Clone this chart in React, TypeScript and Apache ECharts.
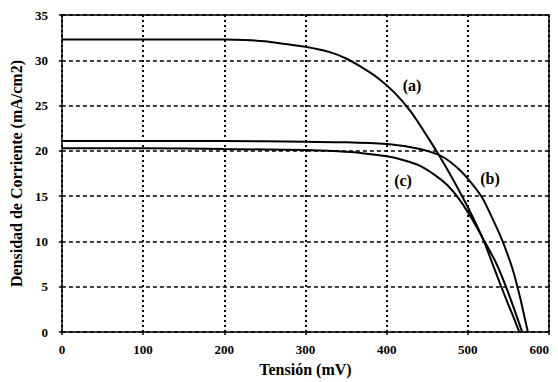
import React, { useEffect, useRef } from "react";
import * as echarts from "echarts";

const xTicks = [0, 100, 200, 300, 400, 500, 600];
const yTicks = [0, 5, 10, 15, 20, 25, 30, 35];

const curveA: [number, number][] = [
  [0, 32.3], [100, 32.3], [200, 32.3], [225, 32.25], [250, 32.1], [275, 31.8],
  [300, 31.5], [330, 30.9], [350, 30.2], [370, 29.2], [390, 28.0], [410, 26.4],
  [430, 24.3], [450, 21.6], [470, 18.7], [490, 15.5], [505, 12.9], [520, 10.0],
  [531, 7.4], [540, 5.3], [550, 3.0], [557, 1.5], [563.5, 0],
];
const curveB: [number, number][] = [
  [0, 21.1], [100, 21.1], [200, 21.1], [300, 21.0], [350, 20.95], [400, 20.75],
  [430, 20.4], [450, 20.0], [470, 19.3], [490, 17.9], [505, 16.4], [518, 14.8],
  [530, 12.6], [542, 10.2], [555, 7.0], [565, 3.6], [574, 0],
];
const curveC: [number, number][] = [
  [0, 20.3], [100, 20.3], [200, 20.2], [300, 20.1], [340, 19.95], [370, 19.75],
  [400, 19.4], [420, 19.0], [440, 18.4], [460, 17.3], [475, 16.2], [490, 14.6],
  [505, 12.5], [520, 10.1], [535, 7.6], [550, 4.3], [567, 0],
];

const curveLabels = [
  { text: "(a)", x: 412, y: 85 },
  { text: "(b)", x: 490, y: 178 },
  { text: "(c)", x: 403, y: 180 },
];

const FONT = "Liberation Serif, Times New Roman, serif";

export default function App() {
  const ref = useRef<HTMLDivElement>(null);
  useEffect(() => {
    if (!ref.current) return;
    const chart = echarts.init(ref.current, undefined, { renderer: "svg" });
    const lineSeries = (name: string, data: [number, number][]) => ({
      name,
      type: "line",
      xAxisIndex: 0,
      yAxisIndex: 0,
      data,
      smooth: 0.25,
      showSymbol: false,
      symbol: "none",
      lineStyle: { color: "#000", width: 2 },
      z: 5,
    });
    const frameAxis = {
      type: "value",
      axisLine: { show: true, onZero: false, lineStyle: { color: "#000", width: 1.5 } },
      axisTick: { show: false },
      axisLabel: { show: false },
      splitLine: { show: false },
    };
    chart.setOption({
      animation: false,
      backgroundColor: "#fff",
      grid: { left: 58, right: 9, top: 15, bottom: 46 },
      xAxis: [
        {
          type: "value",
          min: xTicks[0],
          max: xTicks[xTicks.length - 1],
          interval: 100,
          name: "Tensión (mV)",
          nameLocation: "middle",
          nameGap: 19,
          nameTextStyle: { fontFamily: FONT, fontWeight: "bold", fontSize: 16, color: "#000" },
          axisLine: { show: true, onZero: false, lineStyle: { color: "#000", width: 1.5 } },
          axisTick: { show: true, length: 3, lineStyle: { color: "#000", width: 1.5 } },
          axisLabel: {
            fontFamily: FONT, fontWeight: "bold", fontSize: 13, color: "#000", margin: 11,
            alignMaxLabel: "right",
          },
          splitLine: { show: true, lineStyle: { color: "#000", width: 2, type: [2, 3] } },
        },
        { ...frameAxis, position: "top", min: 0, max: 600 },
      ],
      yAxis: [
        {
          type: "value",
          min: yTicks[0],
          max: yTicks[yTicks.length - 1],
          interval: 5,
          name: "Densidad de Corriente (mA/cm2)",
          nameLocation: "middle",
          nameGap: 26,
          nameTextStyle: { fontFamily: FONT, fontWeight: "bold", fontSize: 16, color: "#000" },
          axisLine: { show: true, onZero: false, lineStyle: { color: "#000", width: 1.5 } },
          axisTick: { show: true, length: 3, lineStyle: { color: "#000", width: 1.5 } },
          axisLabel: { fontFamily: FONT, fontWeight: "bold", fontSize: 13, color: "#000", margin: 14 },
          splitLine: { show: true, lineStyle: { color: "#000", width: 1.5, type: [4, 3] } },
        },
        { ...frameAxis, position: "right", min: 0, max: 35 },
      ],
      series: [
        lineSeries("(a)", curveA),
        lineSeries("(b)", curveB),
        lineSeries("(c)", curveC),
      ],
      graphic: curveLabels.map((l) => ({
        type: "text",
        x: l.x,
        y: l.y,
        style: {
          text: l.text,
          fontFamily: FONT,
          fontWeight: "bold",
          fontSize: 16,
          fill: "#000",
          align: "center",
          verticalAlign: "middle",
        },
        z: 10,
      })),
    });
    return () => chart.dispose();
  }, []);
  return (
    <div
      ref={ref}
      style={{ position: "fixed", left: 0, top: 0, width: 558, height: 382 }}
    />
  );
}
